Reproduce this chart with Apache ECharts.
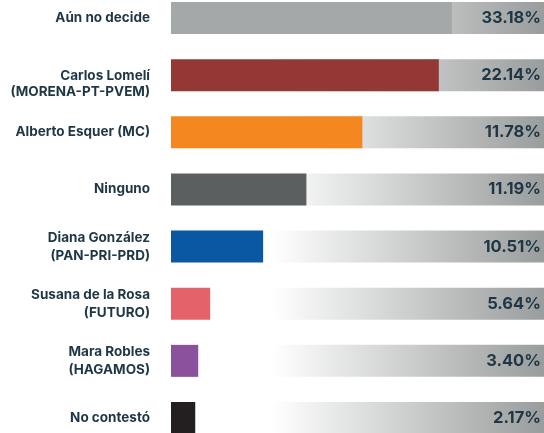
<!DOCTYPE html>
<html>
<head>
<meta charset="utf-8">
<script src="https://cdn.jsdelivr.net/npm/echarts@6/dist/echarts.min.js"></script>
<style>
    html, body { margin: 0; padding: 0; background: #fff; }
    #chart { width: 544px; height: 433px; }
</style>
</head>
<body>
<div id="chart"></div>
<script>
// candidatos
var categories = [
    'Aún no decide',
    'Carlos Lomelí\n(MORENA-PT-PVEM)',
    'Alberto Esquer (MC)',
    'Ninguno',
    'Diana González\n(PAN-PRI-PRD)',
    'Susana de la Rosa\n(FUTURO)',
    'Mara Robles\n(HAGAMOS)',
    'No contestó'
];
// porcentajes mostrados
var percents = [33.18, 22.14, 11.78, 11.19, 10.51, 5.64, 3.40, 2.17];
// largo de la barra tal como se dibuja (escala 0-100 del fondo)
var barLengths = [75.3, 71.8, 51.3, 36.3, 24.7, 10.5, 7.3, 6.5];
var trackValues = [100, 100, 100, 100, 100, 100, 100, 100];
var colors = ['#a5a8a8', '#943735', '#f58720', '#5c5f5f', '#0a57a3', '#e4636a', '#8a519d', '#231f20'];

var textColor = '#1f3644';
var font = 'Inter, "Noto Sans", sans-serif';

var chart = echarts.init(document.getElementById('chart'));
var option = {
    animation: false,
    grid: { left: 171, right: 0, top: 18, bottom: 15 },
    xAxis: { type: 'value', min: 0, max: 100, show: false },
    yAxis: {
        type: 'category',
        inverse: true,
        boundaryGap: false,
        data: categories,
        axisLine: { show: false },
        axisTick: { show: false },
        axisLabel: {
            margin: 21,
            color: textColor,
            fontFamily: font,
            fontWeight: 'bold',
            fontSize: 13.5,
            lineHeight: 18,
            align: 'right',
            // la etiqueta de Carlos Lomelí va un poco más abajo en el original
            formatter: function (value, index) {
                if (index === 1) {
                    var parts = value.split('\n');
                    return '{sp| }\n{n|' + parts[0] + '}\n{n|' + parts[1] + '}';
                }
                return value;
            },
            rich: {
                sp: { lineHeight: 18, fontSize: 10 },
                n: {
                    color: textColor,
                    fontFamily: font,
                    fontWeight: 'bold',
                    fontSize: 13.5,
                    lineHeight: 16
                }
            }
        }
    },
    series: [
        {
            // fondo degradado
            type: 'bar',
            data: trackValues,
            barWidth: 32,
            silent: true,
            itemStyle: {
                color: new echarts.graphic.LinearGradient(0, 0, 1, 0, [
                    { offset: 0, color: '#ffffff' },
                    { offset: 0.27, color: '#ffffff' },
                    { offset: 1, color: '#9a9d9d' }
                ])
            },
            label: {
                show: true,
                position: 'insideRight',
                distance: 3,
                color: textColor,
                fontFamily: font,
                fontWeight: 'bold',
                fontSize: 16.5,
                formatter: function (p) {
                    return percents[p.dataIndex].toFixed(2) + '%';
                }
            }
        },
        {
            type: 'bar',
            data: barLengths.map(function (v, i) {
                return { value: v, itemStyle: { color: colors[i] } };
            }),
            barWidth: 32,
            barGap: '-100%',
            z: 3
        }
    ]
};
chart.setOption(option);
</script>
</body>
</html>
